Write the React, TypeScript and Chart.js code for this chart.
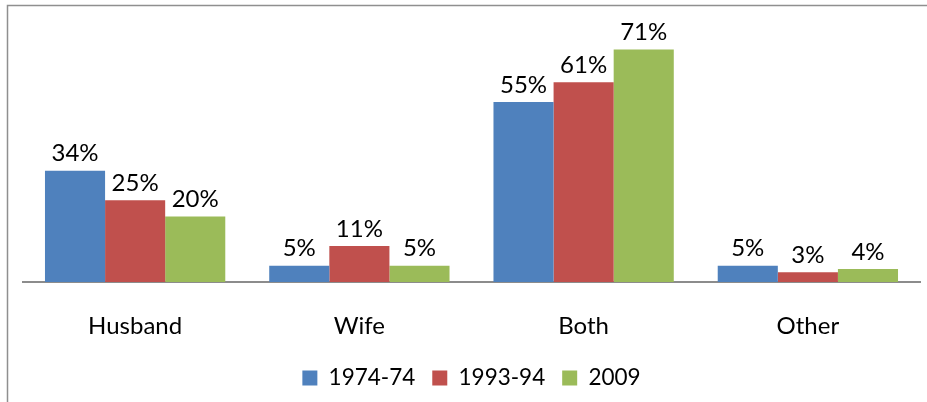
import { useEffect, useRef } from "react";
import { Chart, registerables } from "chart.js";
Chart.register(...registerables);

const categories = ["Husband", "Wife", "Both", "Other"];
const seriesLabels = ["1974-74", "1993-94", "2009"];
const values1974 = [34, 5, 55, 5];
const values1993 = [25, 11, 61, 3];
const values2009 = [20, 5, 71, 4];
const seriesColors = ["#4F81BD", "#C0504D", "#9BBB59"];

const FONT = "Lato, 'Open Sans', sans-serif";

const framePlugin = {
  id: "frame",
  beforeDraw(chart: any) {
    const ctx = chart.ctx;
    ctx.save();
    ctx.fillStyle = "#ffffff";
    ctx.fillRect(0, 0, chart.width, chart.height);
    ctx.strokeStyle = "#8f8f8f";
    ctx.lineWidth = 1.5;
    ctx.strokeRect(7.5, 5.5, chart.width + 20, chart.height + 20);
    ctx.restore();
  },
};

const labelPlugin = {
  id: "barLabels",
  afterDatasetsDraw(chart: any) {
    const ctx = chart.ctx;
    ctx.save();
    ctx.font = `24px ${FONT}`;
    ctx.fillStyle = "#000000";
    ctx.textAlign = "center";
    ctx.textBaseline = "bottom";
    chart.data.datasets.forEach((ds: any, i: number) => {
      const meta = chart.getDatasetMeta(i);
      meta.data.forEach((bar: any, j: number) => {
        ctx.fillText(`${ds.data[j]}%`, bar.x, bar.y - 5);
      });
    });
    ctx.restore();
  },
};

export default function App() {
  const ref = useRef<HTMLCanvasElement>(null);
  useEffect(() => {
    if (!ref.current) return;
    const series = [values1974, values1993, values2009];
    const chart = new Chart(ref.current, {
      type: "bar",
      data: {
        labels: categories,
        datasets: series.map((d, i) => ({
          label: seriesLabels[i],
          data: d,
          backgroundColor: seriesColors[i],
          borderWidth: 0,
          barPercentage: 1,
          categoryPercentage: 0.804,
        })),
      },
      options: {
        responsive: false,
        animation: false,
        layout: { padding: { left: 23, right: 7, top: 20, bottom: 2.75 } },
        plugins: {
          legend: {
            position: "bottom",
            labels: {
              boxWidth: 15,
              boxHeight: 15,
              padding: 17,
              color: "#000000",
              font: { family: FONT, size: 22.5 },
            },
          },
          tooltip: { enabled: false },
        },
        scales: {
          y: { display: false, min: 0, max: 80 },
          x: {
            grid: { display: false },
            border: { display: true, color: "#8c8c8c", width: 2 },
            ticks: {
              color: "#000000",
              padding: 21.6,
              font: { family: FONT, size: 24 },
            },
            afterFit(scale: any) {
              scale.height = 67.75;
            },
          },
        },
      },
      plugins: [framePlugin, labelPlugin],
    });
    return () => chart.destroy();
  }, []);
  return (
    <div style={{ position: "fixed", left: 0, top: 0, width: 927, height: 402 }}>
      <canvas ref={ref} width={927} height={402} style={{ display: "block" }} />
    </div>
  );
}
